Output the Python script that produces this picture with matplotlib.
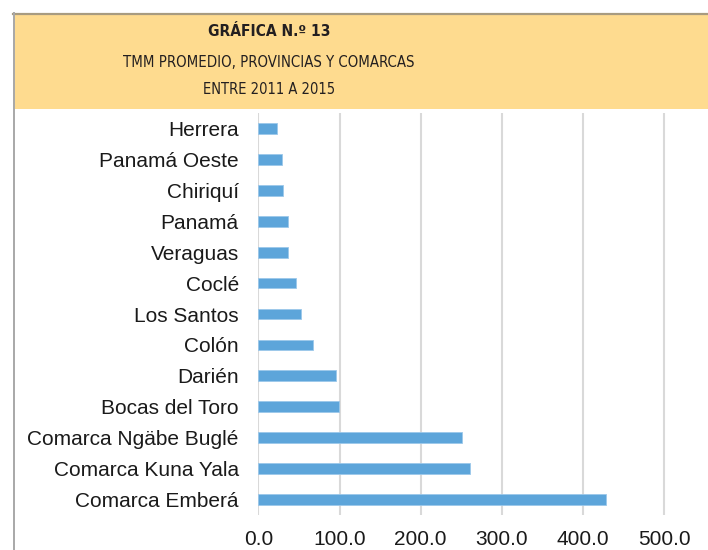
import matplotlib
matplotlib.use("Agg")
import matplotlib.pyplot as plt
from matplotlib import font_manager
from matplotlib.font_manager import FontProperties
from matplotlib.patches import Rectangle
from matplotlib.lines import Line2D

categories = ["Herrera", "Panamá Oeste", "Chiriquí", "Panamá", "Veraguas", "Coclé",
              "Los Santos", "Colón", "Darién", "Bocas del Toro",
              "Comarca Ngäbe Buglé", "Comarca Kuna Yala", "Comarca Emberá"]
values = [23.4, 28.8, 30.8, 36.6, 36.6, 46.0, 53.0, 67.7, 96.0, 99.7, 251.0, 260.7, 428.0]
xticks = [0, 100, 200, 300, 400, 500]
xtick_labels = ["0.0", "100.0", "200.0", "300.0", "400.0", "500.0"]
title_lines = ["GRÁFICA N.º 13", "TMM PROMEDIO, PROVINCIAS Y COMARCAS", "ENTRE 2011 A 2015"]

W, H = 708, 550
fig = plt.figure(figsize=(W / 100, H / 100), dpi=100)
fig.patch.set_facecolor("white")


def fx(px):
    return px / W


def fy(py):
    return 1 - py / H


def weight_num(f):
    if isinstance(f.weight, int):
        return f.weight
    return {"bold": 700, "normal": 400, "regular": 400}.get(str(f.weight).lower(), 400)


def condensed_fonts():
    out = []
    for f in font_manager.fontManager.ttflist:
        nm = f.name.lower()
        fn = f.fname.lower()
        st = str(f.stretch).lower()
        cond = ("condensed" in nm or "narrow" in nm or "condensed" in fn or "narrow" in fn
                or st in ("condensed", "semi-condensed", "extra-condensed", "ultra-condensed")
                or (isinstance(f.stretch, int) and f.stretch < 500))
        if not cond or "italic" in fn or f.style != "normal":
            continue
        if "semi" in fn or "extra" in fn or "ultra" in fn:
            continue
        out.append(f)
    return out


conds = condensed_fonts()
reg_path = bold_path = None
if conds:
    reg = sorted(conds, key=lambda f: abs(weight_num(f) - 400))[0]
    reg_path = reg.fname
    bolds = [f for f in conds if weight_num(f) >= 600]
    if bolds:
        bold_path = sorted(bolds, key=lambda f: (f.name != reg.name,
                                                 abs(weight_num(f) - 700)))[0].fname


def title_props(bold):
    path = bold_path if bold else reg_path
    if path:
        return FontProperties(fname=path)
    return FontProperties(family=["Liberation Sans", "DejaVu Sans"],
                          weight="bold" if bold else "normal")


# header box
fig.patches.append(Rectangle((fx(13), fy(109)), fx(W) - fx(13) + 0.01, fy(13) - fy(109),
                             transform=fig.transFigure, facecolor="#FEDB8F",
                             edgecolor="none", zorder=0))
fig.lines.append(Line2D([fx(13), 1.0], [fy(13.5), fy(13.5)], transform=fig.transFigure,
                        color="#A89B80", lw=1.6))
fig.lines.append(Line2D([fx(13.5), fx(13.5)], [fy(13), 0.0], transform=fig.transFigure,
                        color="#A8A8A8", lw=1.4))

renderer = fig.canvas.get_renderer()
sizes = {}
title_specs = [(title_lines[1], False, 62, 289), (title_lines[2], False, 90, 132),
               (title_lines[0], True, 32, 106)]
for i, (txt, bold, ypx, target_w) in enumerate(title_specs):
    fp = title_props(bold)
    fp.set_size(13)
    t = fig.text(fx(269), fy(ypx), txt, ha="center", va="center",
                 fontproperties=fp, color="#231F20")
    w = t.get_window_extent(renderer).width
    size = min(15.5, 13 * target_w / w)
    if bold:
        size = max(size, sizes[0] * 1.05)
    sizes[i] = size
    t.set_fontsize(size)

ax = fig.add_axes([fx(258.3), fy(515), 1 - fx(258.3), fy(113) - fy(515)])
ax.set_facecolor("white")
ypos = list(range(len(categories)))
ax.barh(ypos, values, height=0.35, color="#5DA5DA", edgecolor="#9CC8EA", linewidth=0.6, zorder=3)
ax.set_ylim(len(categories) - 0.5, -0.5)
xmax = (W - 258.3) / 0.812
ax.set_xlim(0, xmax)
ax.set_xticks(xticks)
ax.set_xticklabels(xtick_labels)
ax.set_yticks(ypos)
ax.set_yticklabels(categories)
ax.grid(axis="x", color="#D9D9D9", lw=1.5, zorder=0)
ax.set_axisbelow(True)
for s in ax.spines.values():
    s.set_visible(False)
ax.tick_params(axis="y", length=0, pad=14, labelsize=15, labelcolor="#1A1A1A")
ax.tick_params(axis="x", length=0, pad=11, labelsize=15, labelcolor="#1A1A1A")
for lab in ax.get_xticklabels() + ax.get_yticklabels():
    lab.set_family(["Liberation Sans", "DejaVu Sans"])

fig.savefig("out.png", dpi=100)
